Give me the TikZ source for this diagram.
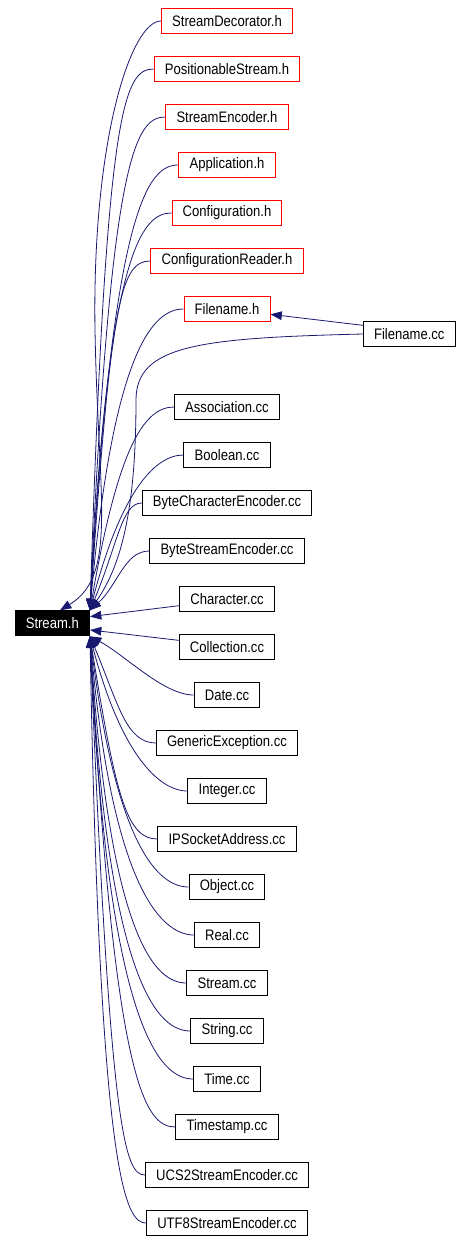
\documentclass[tikz,border=0pt]{standalone}
\usepackage{fontspec}
\setmainfont{Liberation Sans}[FakeStretch=0.86]
\usetikzlibrary{arrows.meta}
\definecolor{depblue}{RGB}{25,25,112}

\begin{document}
\begin{tikzpicture}[x=0.75pt, y=-0.75pt,
      every node/.append style={font=\fontsize{11.4pt}{13pt}\selectfont},
      dep/.style={draw=depblue, line width=0.6pt, -{Triangle[length=8.5pt,width=6.5pt]}}]
    \tikzstyle{file} = [draw=black, line width=0.75pt, minimum height=18.75pt, inner xsep=8pt, inner ysep=0pt]
    \tikzstyle{header} = [file, draw=red]
    \tikzstyle{root} = [file, fill=black, text=white]
    \useasboundingbox (0,0) rectangle (463,1242);

    % the header in the middle and the files that include it
    \node (sh) [root] at (52.3,623.3) {Stream.h};
    \node (sd) [header] at (227,21) {StreamDecorator.h};
    \node (ps) [header] at (227,69) {PositionableStream.h};
    \node (se) [header] at (227,117) {StreamEncoder.h};
    \node (ap) [header] at (227,165) {Application.h};
    \node (cf) [header] at (227,213) {Configuration.h};
    \node (cr) [header] at (227,261) {ConfigurationReader.h};
    \node (fh) [header] at (227,309) {Filename.h};
    \node (fc) [file] at (409.3,334) {Filename.cc};
    \node (as) [file] at (227,407) {Association.cc};
    \node (bo) [file] at (227,455) {Boolean.cc};
    \node (bce) [file] at (227,503) {ByteCharacterEncoder.cc};
    \node (bse) [file] at (227,551) {ByteStreamEncoder.cc};
    \node (ch) [file] at (227,599) {Character.cc};
    \node (co) [file] at (227,647) {Collection.cc};
    \node (da) [file] at (227,695) {Date.cc};
    \node (ge) [file] at (227,743) {GenericException.cc};
    \node (in) [file] at (227,791) {Integer.cc};
    \node (ip) [file] at (227,839) {IPSocketAddress.cc};
    \node (ob) [file] at (227,887) {Object.cc};
    \node (re) [file] at (227,935) {Real.cc};
    \node (sc) [file] at (227,983) {Stream.cc};
    \node (st) [file] at (227,1031) {String.cc};
    \node (ti) [file] at (227,1079) {Time.cc};
    \node (ts) [file] at (227,1127) {Timestamp.cc};
    \node (ucs) [file] at (227,1175) {UCS2StreamEncoder.cc};
    \node (utf) [file] at (227,1223) {UTF8StreamEncoder.cc};

    % upper fan
    \draw[dep] (sd.west) .. controls +(-30,0) and (92,140) .. (95,330) .. controls (98,500) and (118,575) .. ([xshift=5.8pt]sh.north);
    \draw[dep] (ps.west) .. controls +(-30,0) and (106,109) .. (sh.north east);
    \draw[dep] (se.west) .. controls +(-30,0) and (110,157) .. (sh.north east);
    \draw[dep] (ap.west) .. controls +(-30,0) and (113,205) .. (sh.north east);
    \draw[dep] (cf.west) .. controls +(-30,0) and (108,253) .. (sh.north east);
    \draw[dep] (cr.west) .. controls +(-30,0) and (111,301) .. (sh.north east);
    \draw[dep] (fh.west) .. controls +(-30,0) and (113,349) .. (sh.north east);
    \draw[dep] ([yshift=6.5pt]fc.west) -- ([yshift=-4pt]fh.east);
    \draw[dep] (fc.west) .. controls (200,338) and (136,345) .. (136,400) .. controls (136,520) and (118,570) .. (sh.north east);
    \draw[dep] (as.west) .. controls +(-30,0) and (118,447) .. (sh.north east);
    \draw[dep] (bo.west) .. controls +(-30,0) and (120,495) .. (sh.north east);
    \draw[dep] (bce.west) .. controls +(-20,0) and (118,543) .. (sh.north east);
    \draw[dep] (bse.west) .. controls +(-25,0) and (118,585) .. (sh.north east);
    % straight ones
    \draw[dep] ([yshift=-5pt]ch.west) -- ([yshift=5pt]sh.east);
    \draw[dep] ([yshift=5pt]co.west) -- ([yshift=-5pt]sh.east);
    % lower fan
    \draw[dep] (da.west) .. controls +(-30,0) and (125,655) .. (sh.south east);
    \draw[dep] (ge.west) .. controls +(-30,0) and (118,703) .. (sh.south east);
    \draw[dep] (in.west) .. controls +(-30,0) and (120,751) .. (sh.south east);
    \draw[dep] (ip.west) .. controls +(-30,0) and (116,799) .. (sh.south east);
    \draw[dep] (ob.west) .. controls +(-30,0) and (116,847) .. (sh.south east);
    \draw[dep] (re.west) .. controls +(-30,0) and (113,895) .. (sh.south east);
    \draw[dep] (sc.west) .. controls +(-30,0) and (110,943) .. (sh.south east);
    \draw[dep] (st.west) .. controls +(-30,0) and (108,991) .. (sh.south east);
    \draw[dep] (ti.west) .. controls +(-30,0) and (108,1039) .. (sh.south east);
    \draw[dep] (ts.west) .. controls +(-30,0) and (114,1087) .. (sh.south east);
    \draw[dep] (ucs.west) .. controls +(-20,0) and (110,1135) .. (sh.south east);
    \draw[dep] (utf.west) .. controls +(-20,0) and (100,1183) .. (sh.south east);
\end{tikzpicture}
\end{document}
